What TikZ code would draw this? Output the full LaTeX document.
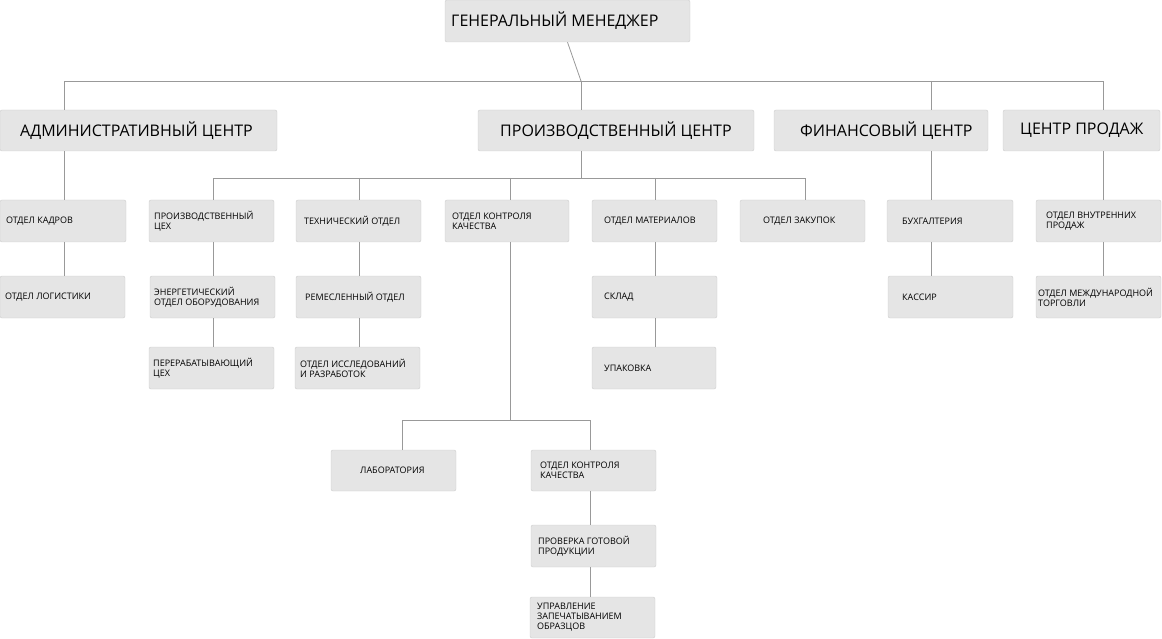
\documentclass[tikz,border=0pt]{standalone}
\usepackage{fontspec}
\setmainfont{Open Sans}
\begin{document}
\begin{tikzpicture}[x=1pt,y=-1pt,
  boxst/.style={draw=black!20,fill=black!10,rounded corners=2pt,inner sep=0pt},
  lnk/.style={draw=black!40,line width=0.8pt},
  small/.style={font=\fontsize{9}{10}\selectfont,align=left,anchor=west,inner sep=0pt},
  big/.style={font=\fontsize{16}{18}\selectfont,anchor=west,inner sep=0pt}]
\useasboundingbox (0,0) rectangle (1162,639);
\newcommand\bx[8]{%
  \node[boxst,minimum width=#4-#2,minimum height=#5-#3] (#1) at ({(#2+#4)/2},{(#3+#5)/2}) {};
  \node[#8] (#1t) at (#6,{(#3+#5)/2}) {#7};}
\bx{gm}{445}{0}{690}{42}{451}{ГЕНЕРАЛЬНЫЙ МЕНЕДЖЕР}{big}
\bx{adm}{0}{110}{277}{151}{20}{АДМИНИСТРАТИВНЫЙ ЦЕНТР}{big}
\bx{prc}{478}{110}{754}{151}{500}{ПРОИЗВОДСТВЕННЫЙ ЦЕНТР}{big}
\bx{fin}{774}{110}{988}{151}{800}{ФИНАНСОВЫЙ ЦЕНТР}{big}
\bx{sal}{1003}{110}{1160}{151}{1020}{ЦЕНТР ПРОДАЖ}{big}
\bx{kad}{0}{200}{126}{242}{6}{ОТДЕЛ КАДРОВ}{small}
\bx{pcx}{149}{200}{274}{242}{154}{ПРОИЗВОДСТВЕННЫЙ\\ЦЕХ}{small}
\bx{teh}{296}{200}{421}{242}{304}{ТЕХНИЧЕСКИЙ ОТДЕЛ}{small}
\bx{okk}{445}{200}{569}{242}{452}{ОТДЕЛ КОНТРОЛЯ\\КАЧЕСТВА}{small}
\bx{mat}{592}{200}{717}{242}{604}{ОТДЕЛ МАТЕРИАЛОВ}{small}
\bx{zak}{740}{200}{865}{242}{763}{ОТДЕЛ ЗАКУПОК}{small}
\bx{buh}{887}{200}{1013}{242}{902}{БУХГАЛТЕРИЯ}{small}
\bx{vnu}{1036}{200}{1161}{242}{1046}{ОТДЕЛ ВНУТРЕННИХ\\ПРОДАЖ}{small}
\bx{log}{0}{276}{125}{318}{5}{ОТДЕЛ ЛОГИСТИКИ}{small}
\bx{ene}{150}{276}{275}{318}{154}{ЭНЕРГЕТИЧЕСКИЙ\\ОТДЕЛ ОБОРУДОВАНИЯ}{small}
\bx{rem}{296}{276}{421}{318}{305}{РЕМЕСЛЕННЫЙ ОТДЕЛ}{small}
\bx{skl}{592}{276}{717}{318}{604}{СКЛАД}{small}
\bx{kas}{888}{276}{1013}{318}{902}{КАССИР}{small}
\bx{mez}{1036}{276}{1161}{318}{1038}{ОТДЕЛ МЕЖДУНАРОДНОЙ\\ТОРГОВЛИ}{small}
\bx{per}{149}{347}{274}{389}{153}{ПЕРЕРАБАТЫВАЮЩИЙ\\ЦЕХ}{small}
\bx{iss}{295}{347}{420}{389}{300}{ОТДЕЛ ИССЛЕДОВАНИЙ\\И РАЗРАБОТОК}{small}
\bx{upa}{592}{347}{716}{389}{604}{УПАКОВКА}{small}
\bx{lab}{331}{450}{456}{491}{360}{ЛАБОРАТОРИЯ}{small}
\bx{ok2}{531}{450}{656}{491}{540}{ОТДЕЛ КОНТРОЛЯ\\КАЧЕСТВА}{small}
\bx{pro}{531}{525}{656}{567}{538}{ПРОВЕРКА ГОТОВОЙ\\ПРОДУКЦИИ}{small}
\bx{upr}{530}{597}{655}{638}{537}{УПРАВЛЕНИЕ\\ЗАПЕЧАТЫВАНИЕМ\\ОБРАЗЦОВ}{small}
% top level
\coordinate (b1) at (581,81);
\draw[lnk] (gm.south) -- (b1);
\draw[lnk] (adm.north -| 64,0) -- (64,81) -- (1103,81) -- (sal.north -| 1103,0);
\draw[lnk] (b1) -- (prc.north -| b1);
\draw[lnk] (931,81) -- (fin.north -| 931,0);
% admin
\draw[lnk] (adm.south -| 64,0) -- (kad.north -| 64,0);
\draw[lnk] (kad.south -| 64,0) -- (log.north -| 64,0);
% production
\draw[lnk] (prc.south -| 581,0) -- (581,178);
\draw[lnk] (pcx.north -| 213,0) -- (213,178) -- (805,178) -- (zak.north -| 805,0);
\draw[lnk] (359,178) -- (teh.north -| 359,0);
\draw[lnk] (510,178) -- (okk.north -| 510,0);
\draw[lnk] (655,178) -- (mat.north -| 655,0);
\draw[lnk] (pcx.south -| 213,0) -- (ene.north -| 213,0);
\draw[lnk] (ene.south -| 213,0) -- (per.north -| 213,0);
\draw[lnk] (teh.south -| 359,0) -- (rem.north -| 359,0);
\draw[lnk] (rem.south -| 359,0) -- (iss.north -| 359,0);
\draw[lnk] (mat.south -| 655,0) -- (skl.north -| 655,0);
\draw[lnk] (skl.south -| 655,0) -- (upa.north -| 655,0);
\draw[lnk] (okk.south -| 510,0) -- (510,420);
\draw[lnk] (lab.north -| 402,0) -- (402,420) -- (590,420) -- (ok2.north -| 590,0);
\draw[lnk] (ok2.south -| 590,0) -- (pro.north -| 590,0);
\draw[lnk] (pro.south -| 590,0) -- (upr.north -| 590,0);
% finance, sales
\draw[lnk] (fin.south -| 931,0) -- (buh.north -| 931,0);
\draw[lnk] (buh.south -| 931,0) -- (kas.north -| 931,0);
\draw[lnk] (sal.south -| 1103,0) -- (vnu.north -| 1103,0);
\draw[lnk] (vnu.south -| 1103,0) -- (mez.north -| 1103,0);
\end{tikzpicture}
\end{document}
